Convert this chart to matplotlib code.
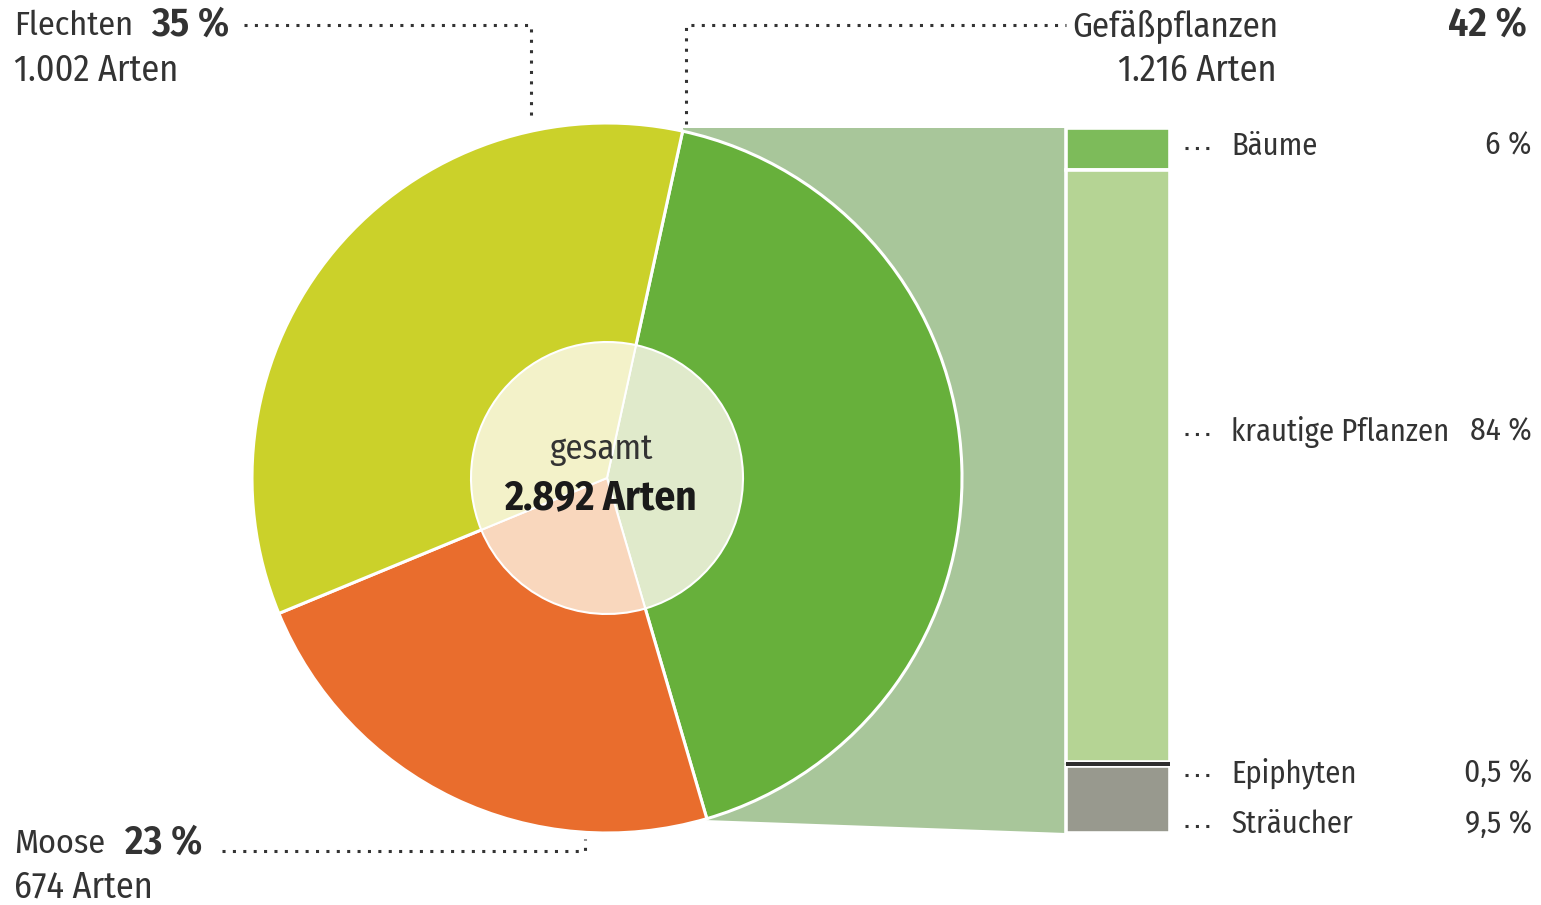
import matplotlib
matplotlib.use("Agg")
import matplotlib.pyplot as plt
from matplotlib.patches import Polygon

# Data
groups = ["Gefäßpflanzen", "Moose", "Flechten"]
counts = [1216, 674, 1002]
count_labels = ["1.216 Arten", "674 Arten", "1.002 Arten"]
shares = ["42 %", "23 %", "35 %"]
total_label = "2.892 Arten"

sub_names = ["Bäume", "krautige Pflanzen", "Epiphyten", "Sträucher"]
sub_shares = [6.0, 84.0, 0.5, 9.5]
sub_labels = ["6 %", "84 %", "0,5 %", "9,5 %"]

outer_colors = ["#67b03b", "#e96d2d", "#cbd12a"]
inner_colors = ["#e0eacb", "#f9d7bd", "#f3f2c9"]
sub_colors = ["#7dbb5a", "#b5d494", "#2e2e2e", "#98998e"]

plt.rcParams["font.family"] = ["Fira Sans Condensed", "DejaVu Sans"]

W, H = 1541, 905
fig = plt.figure(figsize=(W / 100, H / 100), dpi=100)
ax = fig.add_axes([0, 0, 1, 1])


def Y(py):
    return H - py


cx, cy = 607, Y(478)
R, r = 355, 136
start = 77.7

# Link band between the vascular-plant wedge and the stacked bar
bar_x0, bar_x1 = 1066, 1170
bar_top, bar_bot = 128, 833
band = Polygon([(683, Y(128)), (bar_x0, Y(bar_top)), (bar_x0, Y(bar_bot)), (705, Y(820))],
               closed=True, facecolor="#a8c69a", edgecolor="none", zorder=1)
ax.add_patch(band)

ax.pie(counts, colors=outer_colors, startangle=start, counterclock=False,
       center=(cx, cy), radius=R, frame=True,
       wedgeprops=dict(edgecolor="white", linewidth=2.2, zorder=2))
ax.pie(counts, colors=inner_colors, startangle=start, counterclock=False,
       center=(cx, cy), radius=r, frame=True,
       wedgeprops=dict(edgecolor="white", linewidth=1.5, zorder=3))
ax.set_xlim(0, W)
ax.set_ylim(0, H)
ax.set_aspect("equal")
ax.axis("off")

txt = "#333333"
ax.text(601, Y(449), "gesamt", ha="center", va="center", fontsize=25, color=txt, zorder=5)
ax.text(600, Y(498), total_label, ha="center", va="center", fontsize=29.5,
        fontweight="bold", color="#1a1a1a", zorder=5)

# Stacked bar for the vascular plants
height = bar_bot - bar_top
bottom = Y(bar_top)
bar_w = bar_x1 - bar_x0
for name, val, col in zip(sub_names, sub_shares, sub_colors):
    h = height * val / 100
    thin = val < 1
    ax.bar(bar_x0, -h, bottom=bottom, width=bar_w, align="edge", color=col,
           edgecolor="none" if thin else "white", linewidth=0 if thin else 2.6,
           zorder=3 if thin else 2)
    bottom -= h

dot = dict(color="#333333", linestyle=(0, (1, 2.4)), linewidth=2.2, zorder=4)

sub_y = [146, 432, 773, 824]
for name, lab, py in zip(sub_names, sub_labels, sub_y):
    ax.plot([1185, 1212], [Y(py) - 2, Y(py) - 2], **dot)
    ax.text(1231, Y(py), name, ha="left", va="center", fontsize=22, color=txt)
    ax.text(1532, Y(py), lab, ha="right", va="center", fontsize=22.5, color=txt)

# Flechten
ax.text(14, Y(26), groups[2], ha="left", va="center", fontsize=24.5, color=txt)
ax.text(151, Y(25), shares[2], ha="left", va="center", fontsize=29, color=txt, fontweight="semibold")
ax.text(14, Y(71), count_labels[2], ha="left", va="center", fontsize=26, color=txt)
ax.plot([244, 531, 531], [Y(25), Y(25), Y(122)], **dot)

# Gefäßpflanzen
ax.text(1072, Y(26), groups[0], ha="left", va="center", fontsize=25, color=txt)
ax.text(1277, Y(71), count_labels[0], ha="right", va="center", fontsize=26, color=txt)
ax.text(1527, Y(25), shares[0], ha="right", va="center", fontsize=29, color=txt, fontweight="semibold")
ax.plot([686, 686, 1066], [Y(124), Y(25), Y(25)], **dot)

# Moose
ax.text(14, Y(844), groups[1], ha="left", va="center", fontsize=24.5, color=txt)
ax.text(125, Y(843), shares[1], ha="left", va="center", fontsize=29, color=txt, fontweight="semibold")
ax.text(14, Y(887), count_labels[1], ha="left", va="center", fontsize=26, color=txt)
ax.plot([222, 585, 585], [Y(851), Y(851), Y(839)], **dot)

fig.savefig("out.png", dpi=100, facecolor="white")
